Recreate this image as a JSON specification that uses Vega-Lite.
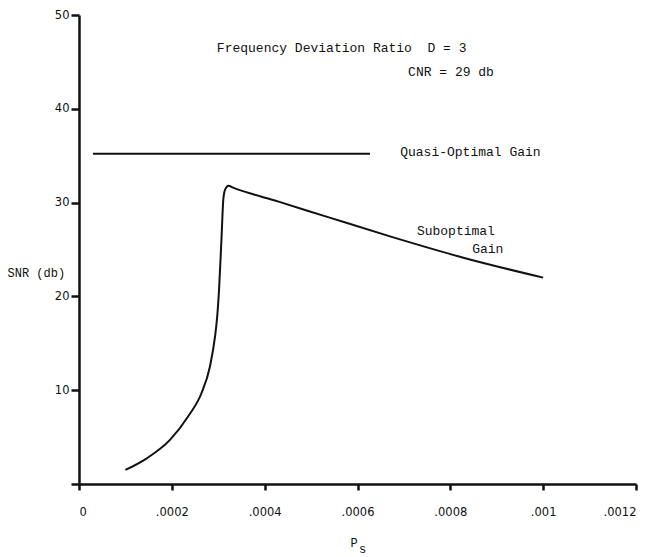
{
  "$schema": "https://vega.github.io/schema/vega-lite/v6.json",
  "width": 557,
  "height": 469,
  "autosize": "none",
  "padding": {"left": 79, "top": 15, "right": 19, "bottom": 73},
  "background": "white",
  "config": {
    "view": {"stroke": null},
    "axis": {
      "domainColor": "#111",
      "domainWidth": 2.5,
      "tickColor": "#111",
      "tickWidth": 2.5,
      "grid": false,
      "labelFont": "DejaVu Sans",
      "labelFontSize": 11.5,
      "labelColor": "#111",
      "titleFont": "Liberation Mono",
      "titleFontWeight": "normal",
      "titleColor": "#111"
    }
  },
  "datasets": {
    "curve": [
      {"ps": 0.0001, "snr": 1.5},
      {"ps": 0.000146, "snr": 2.74},
      {"ps": 0.000196, "snr": 4.7},
      {"ps": 0.000235, "snr": 7.2},
      {"ps": 0.000264, "snr": 9.7},
      {"ps": 0.000282, "snr": 12.5},
      {"ps": 0.000293, "snr": 15.7},
      {"ps": 0.000298, "snr": 18.0},
      {"ps": 0.000302, "snr": 21.0},
      {"ps": 0.000307, "snr": 26.2},
      {"ps": 0.000311, "snr": 30.4},
      {"ps": 0.000315, "snr": 31.4},
      {"ps": 0.000322, "snr": 31.8},
      {"ps": 0.000332, "snr": 31.6},
      {"ps": 0.00043, "snr": 30.1},
      {"ps": 0.00054, "snr": 28.4},
      {"ps": 0.00067, "snr": 26.4},
      {"ps": 0.00083, "snr": 24.1},
      {"ps": 0.001, "snr": 22.0}
    ],
    "quasi": [
      {"ps": 0.00003, "snr": 35.2},
      {"ps": 0.000627, "snr": 35.2}
    ],
    "notes": [
      {"ps": 0.000297, "snr": 46.5, "text": "Frequency Deviation Ratio \u00a0D = 3"},
      {"ps": 0.000709, "snr": 43.9, "text": "CNR = 29 db"},
      {"ps": 0.000692, "snr": 35.4, "text": "Quasi-Optimal Gain"},
      {"ps": 0.000728, "snr": 27.0, "text": "Suboptimal"},
      {"ps": 0.000847, "snr": 25.05, "text": "Gain"}
    ],
    "subscript": [
      {"ps": 0.000611, "snr": -6.9, "text": "s"}
    ]
  },
  "layer": [
    {
      "data": {"name": "curve"},
      "mark": {"type": "line", "color": "#111", "strokeWidth": 2, "interpolate": "monotone"},
      "encoding": {
        "x": {
          "field": "ps", "type": "quantitative",
          "scale": {"domain": [0, 0.0012], "nice": false, "zero": false},
          "axis": {
            "values": [0, 0.0002, 0.0004, 0.0006, 0.0008, 0.001, 0.0012],
            "labelExpr": "datum.value == 0 ? '0' : replace(toString(datum.value), '0.', '.')",
            "tickSize": 6,
            "labelPadding": 16,
            "title": "P",
            "titleFontSize": 12,
            "titleAlign": "left",
            "titleBaseline": "middle",
            "titleAnchor": null,
            "titleX": 271,
            "titleY": 58
          }
        },
        "y": {
          "field": "snr", "type": "quantitative",
          "scale": {"domain": [0, 50], "nice": false},
          "axis": {
            "values": [0, 10, 20, 30, 40, 50],
            "labelExpr": "datum.value == 0 ? '' : datum.label",
            "tickSize": 8,
            "labelPadding": 2,
            "title": "SNR (db)",
            "titleAngle": 0,
            "titleAlign": "left",
            "titleBaseline": "middle",
            "titleX": -72,
            "titleY": 257,
            "titleFontSize": 12
          }
        }
      }
    },
    {
      "data": {"name": "quasi"},
      "mark": {"type": "line", "color": "#111", "strokeWidth": 2},
      "encoding": {
        "x": {"field": "ps", "type": "quantitative"},
        "y": {"field": "snr", "type": "quantitative"}
      }
    },
    {
      "data": {"name": "notes"},
      "mark": {"type": "text", "align": "left", "baseline": "middle", "font": "Liberation Mono", "fontSize": 13, "color": "#111"},
      "encoding": {
        "x": {"field": "ps", "type": "quantitative"},
        "y": {"field": "snr", "type": "quantitative"},
        "text": {"field": "text"}
      }
    },
    {
      "data": {"name": "subscript"},
      "mark": {"type": "text", "align": "center", "baseline": "middle", "font": "Liberation Mono", "fontSize": 12, "color": "#111"},
      "encoding": {
        "x": {"field": "ps", "type": "quantitative"},
        "y": {"field": "snr", "type": "quantitative"},
        "text": {"field": "text"}
      }
    }
  ]
}
